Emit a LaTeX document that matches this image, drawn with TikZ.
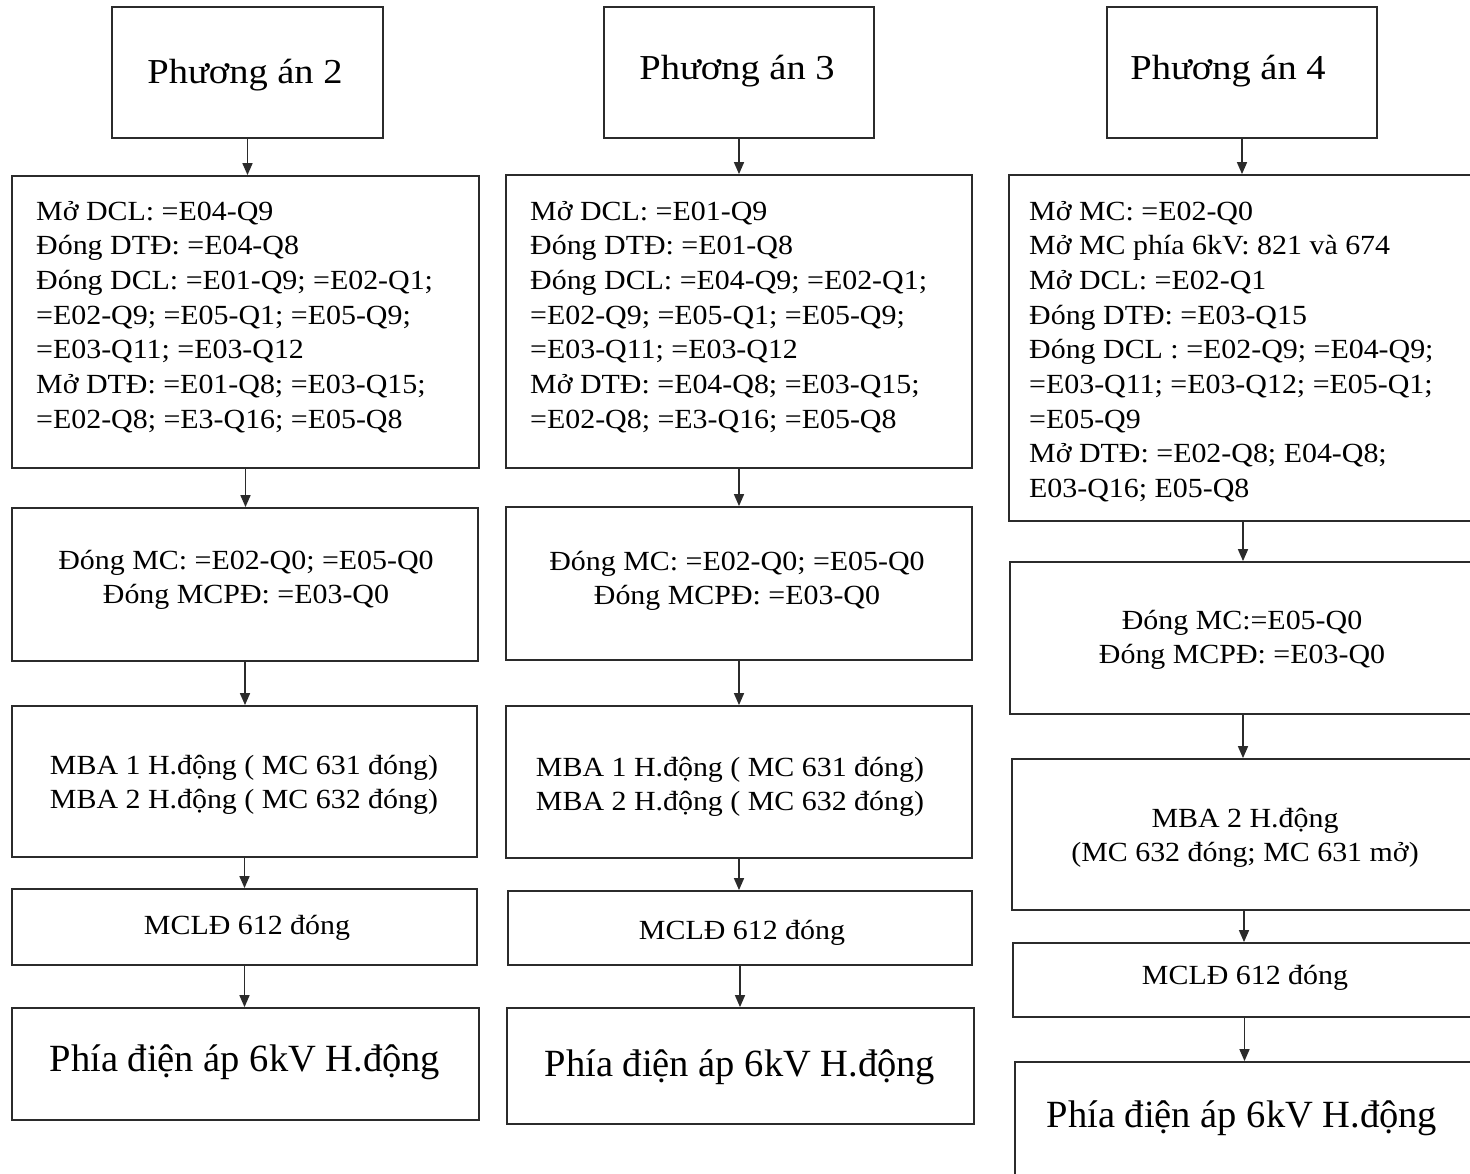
\documentclass[tikz,border=0pt]{standalone}
\usepackage{fontspec}
\usepackage{graphicx}
\setmainfont{Liberation Serif}
\usetikzlibrary{arrows.meta}

\definecolor{boxline}{HTML}{2B2B2B}

\tikzset{
  box/.style={draw=boxline, line width=1.8pt, inner sep=0pt, rectangle},
  arr/.style={draw=boxline, line width=1.6pt, -{Triangle[length=12pt,width=10pt]}},
  body/.style={inner sep=0pt, text=black, font=\fontsize{27.7}{34.7}\selectfont},
  title/.style={inner sep=0pt, text=black, font=\fontsize{35}{40}\selectfont},
  big/.style={inner sep=0pt, text=black, font=\fontsize{38.5}{44}\selectfont},
}

% \fbx{name}{x1}{y1}{x2}{y2}: framed box from its corners (y grows downwards)
\newcommand\fbx[5]{%
  \node[box, minimum width={(#4-#2)*1pt}, minimum height={(#5-#3)*1pt}]
    (#1) at ({(#2+#4)/2},{-(#3+#5)/2}) {};}
% slightly widened type, as in the printed chart
\newcommand\wide[1]{\scalebox{1.08}[1]{#1}}
\newcommand\twide[1]{\scalebox{1.1}[1]{#1}}
% left-aligned and centred line blocks, placed by the first baseline
\newcommand\lblock[1]{\wide{\begin{tabular}[t]{@{}l@{}}#1\end{tabular}}}
\newcommand\cblock[1]{\wide{\begin{tabular}[t]{@{}c@{}}#1\end{tabular}}}

\begin{document}
\begin{tikzpicture}[x=1pt,y=1pt]
\useasboundingbox (0,0) rectangle (1470,-1173);
\fill[white] (0,0) rectangle (1470,-1173);

% ---------------- column: Phương án 2 ----------------
\fbx{aT}{112}{7}{383}{138}
\fbx{aA}{12}{176}{479}{468}
\fbx{aB}{12}{508}{478}{661}
\fbx{aC}{12}{706}{477}{857}
\fbx{aD}{12}{889}{477}{965}
\fbx{aE}{12}{1008}{479}{1120}

\node[title, anchor=base] (aTt) at (245,-83) {\twide{Phương án 2}};
\node[body, anchor=base west] (aAt) at (36,-220) {\lblock{%
  Mở DCL: =E04-Q9\\
  Đóng DTĐ: =E04-Q8\\
  Đóng DCL: =E01-Q9; =E02-Q1;\\
  =E02-Q9; =E05-Q1; =E05-Q9;\\
  =E03-Q11; =E03-Q12\\
  Mở DTĐ: =E01-Q8; =E03-Q15;\\
  =E02-Q8; =E3-Q16; =E05-Q8}};
\node[body, anchor=base] (aBt) at (246,-569) {\cblock{%
  Đóng MC: =E02-Q0; =E05-Q0\\
  Đóng MCPĐ: =E03-Q0}};
\node[body, anchor=base] (aCt) at (244,-774) {\cblock{%
  MBA 1 H.động ( MC 631 đóng)\\
  MBA 2 H.động ( MC 632 đóng)}};
\node[body, anchor=base] (aDt) at (247,-934) {\wide{MCLĐ 612 đóng}};
\node[big, anchor=base] (aEt) at (245,-1071) {Phía điện áp 6kV H.động};

\draw[arr] (aT.south) -- (aT.south |- aA.north);
\draw[arr] (aA.south) -- (aA.south |- aB.north);
\draw[arr] (aB.south) -- (aB.south |- aC.north);
\draw[arr] (aC.south) -- (aC.south |- aD.north);
\draw[arr] (aD.south) -- (aD.south |- aE.north);

% ---------------- column: Phương án 3 ----------------
\fbx{bT}{604}{7}{874}{138}
\fbx{bA}{506}{175}{972}{468}
\fbx{bB}{506}{507}{972}{660}
\fbx{bC}{506}{706}{972}{858}
\fbx{bD}{508}{891}{972}{965}
\fbx{bE}{507}{1008}{974}{1124}

\node[title, anchor=base] (bTt) at (737,-79) {\twide{Phương án 3}};
\node[body, anchor=base west] (bAt) at (530,-220) {\lblock{%
  Mở DCL: =E01-Q9\\
  Đóng DTĐ: =E01-Q8\\
  Đóng DCL: =E04-Q9; =E02-Q1;\\
  =E02-Q9; =E05-Q1; =E05-Q9;\\
  =E03-Q11; =E03-Q12\\
  Mở DTĐ: =E04-Q8; =E03-Q15;\\
  =E02-Q8; =E3-Q16; =E05-Q8}};
\node[body, anchor=base] (bBt) at (737,-570) {\cblock{%
  Đóng MC: =E02-Q0; =E05-Q0\\
  Đóng MCPĐ: =E03-Q0}};
\node[body, anchor=base] (bCt) at (730,-776) {\cblock{%
  MBA 1 H.động ( MC 631 đóng)\\
  MBA 2 H.động ( MC 632 đóng)}};
\node[body, anchor=base] (bDt) at (742,-939) {\wide{MCLĐ 612 đóng}};
\node[big, anchor=base] (bEt) at (740,-1076) {Phía điện áp 6kV H.động};

\draw[arr] (bT.south) -- (bT.south |- bA.north);
\draw[arr] (bA.south) -- (bA.south |- bB.north);
\draw[arr] (bB.south) -- (bB.south |- bC.north);
\draw[arr] (bC.south) -- (bC.south |- bD.north);
\draw[arr] (bD.south) -- (bD.south |- bE.north);

% ---------------- column: Phương án 4 ----------------
\fbx{cT}{1107}{7}{1377}{138}
\fbx{cA}{1009}{175}{1477}{521}
\fbx{cB}{1010}{562}{1476}{714}
\fbx{cC}{1012}{759}{1476}{910}
\fbx{cD}{1013}{943}{1476}{1017}
\fbx{cE}{1015}{1062}{1471}{1190}

\node[title, anchor=base] (cTt) at (1228,-79) {\twide{Phương án 4}};
\node[body, anchor=base west] (cAt) at (1029,-220) {\lblock{%
  Mở MC: =E02-Q0\\
  Mở MC phía 6kV: 821 và 674\\
  Mở DCL: =E02-Q1\\
  Đóng DTĐ: =E03-Q15\\
  Đóng DCL : =E02-Q9; =E04-Q9;\\
  =E03-Q11; =E03-Q12; =E05-Q1;\\
  =E05-Q9\\
  Mở DTĐ: =E02-Q8; E04-Q8;\\
  E03-Q16; E05-Q8}};
\node[body, anchor=base] (cBt) at (1242,-629) {\cblock{%
  Đóng MC:=E05-Q0\\
  Đóng MCPĐ: =E03-Q0}};
\node[body, anchor=base] (cCt) at (1245,-827) {\cblock{%
  MBA 2 H.động\\
  (MC 632 đóng; MC 631 mở)}};
\node[body, anchor=base] (cDt) at (1245,-984) {\wide{MCLĐ 612 đóng}};
\node[big, anchor=base] (cEt) at (1242,-1127) {Phía điện áp 6kV H.động};

\draw[arr] (cT.south) -- (cT.south |- cA.north);
\draw[arr] (cA.south) -- (cA.south |- cB.north);
\draw[arr] (cB.south) -- (cB.south |- cC.north);
\draw[arr] (cC.south) -- (cC.south |- cD.north);
\draw[arr] (cD.south) -- (cD.south |- cE.north);
\end{tikzpicture}
\end{document}
